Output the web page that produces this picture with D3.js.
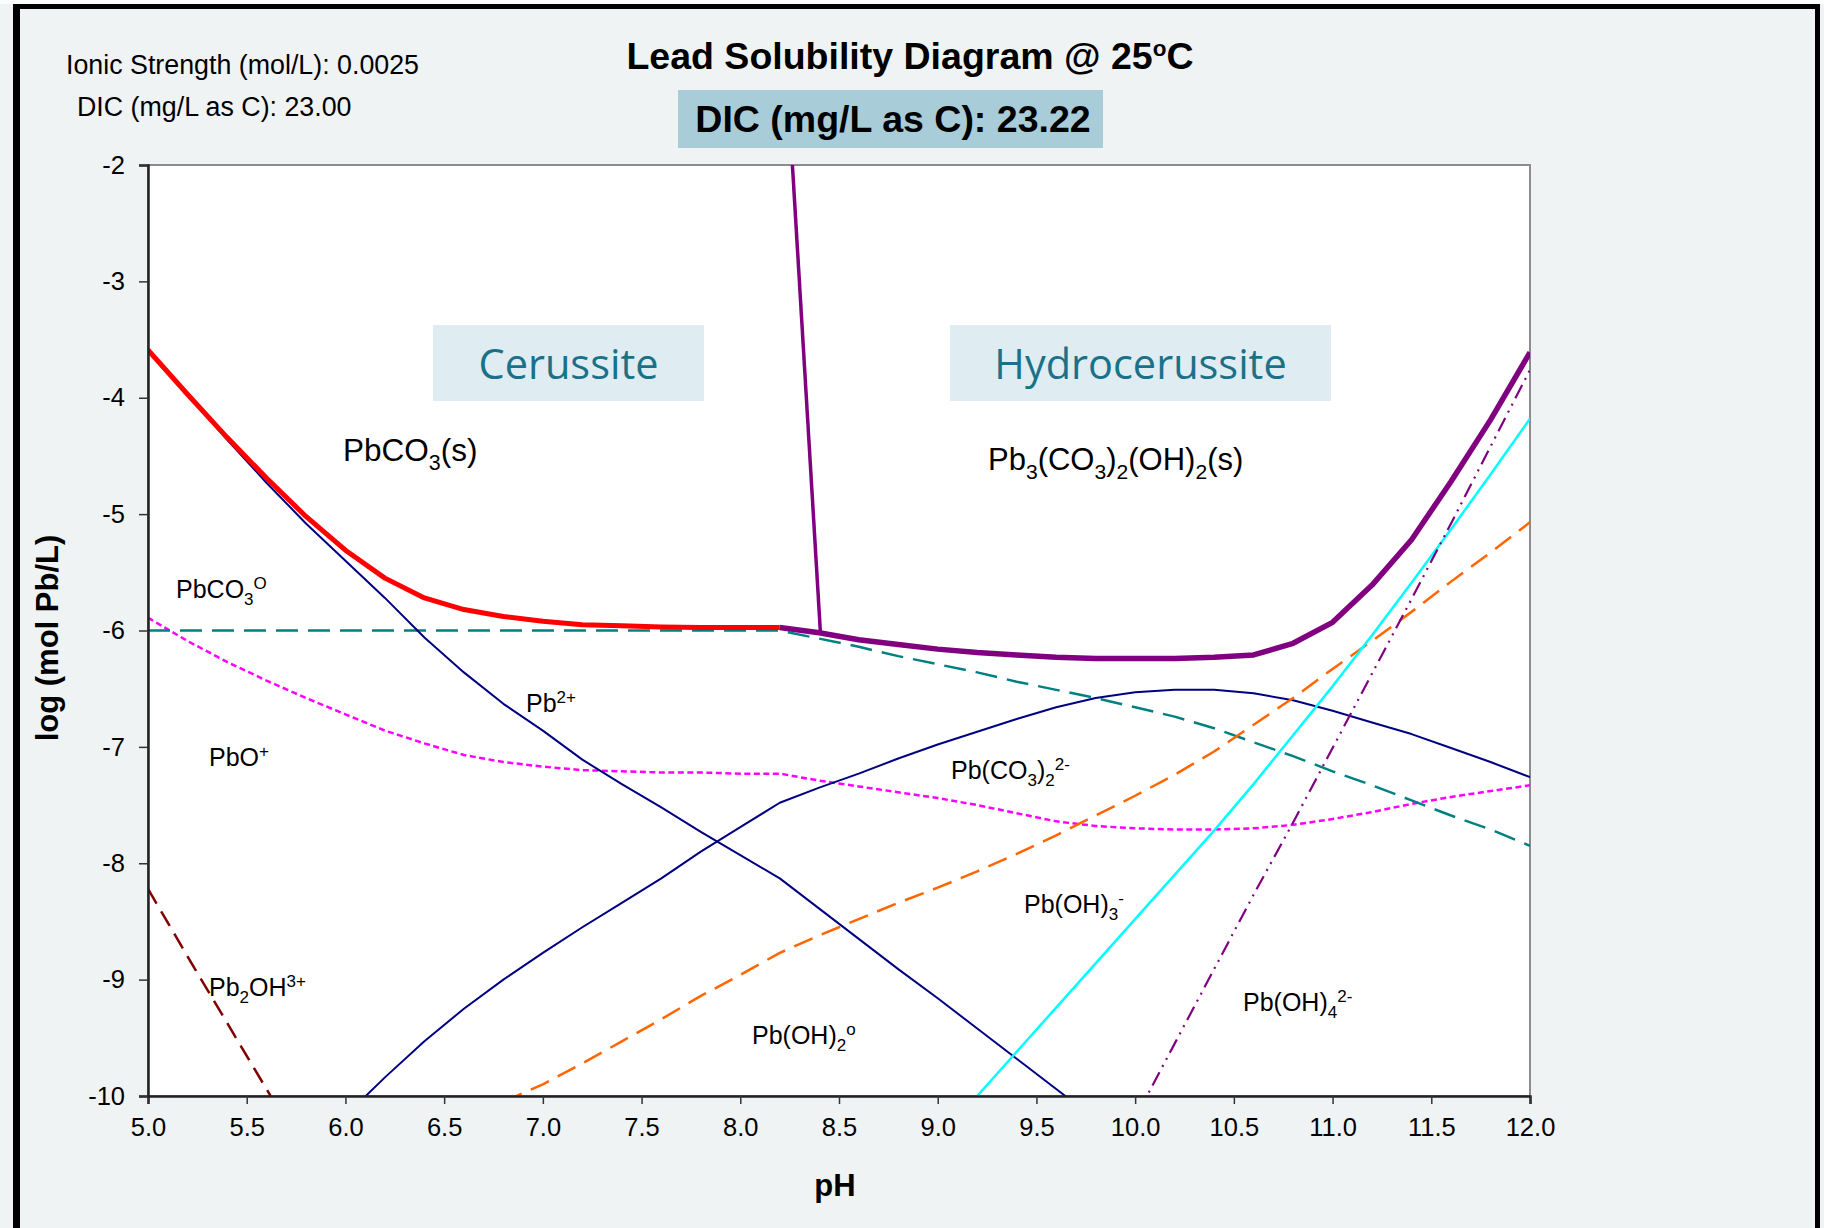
<!DOCTYPE html>
<html>
<head>
<meta charset="utf-8">
<script src="https://cdn.jsdelivr.net/npm/d3@7/dist/d3.min.js"></script>
<style>
  html, body { margin: 0; padding: 0; background: #eff3f4; }
  svg { display: block; }
</style>
</head>
<body>
<svg id="chart" width="1824" height="1228"></svg>
<script>
// ---- data: log total / species concentration (mol Pb/L) versus pH ----
const xTicks = [5.0, 5.5, 6.0, 6.5, 7.0, 7.5, 8.0, 8.5, 9.0, 9.5, 10.0, 10.5, 11.0, 11.5, 12.0];
const yTicks = [-2, -3, -4, -5, -6, -7, -8, -9, -10];

// total dissolved lead controlled by cerussite
const cerussiteTotal = [[5.0,-3.59],[5.2,-3.97],[5.4,-4.34],[5.6,-4.69],[5.8,-5.02],[6.0,-5.31],[6.2,-5.55],
  [6.4,-5.72],[6.6,-5.82],[6.8,-5.88],[7.0,-5.92],[7.2,-5.95],[7.4,-5.96],[7.6,-5.97],[7.8,-5.975],
  [8.0,-5.975],[8.2,-5.975]];
// total dissolved lead controlled by hydrocerussite
const hydrocerussiteTotal = [[8.2,-5.975],[8.4,-6.02],[8.6,-6.08],[8.8,-6.12],[9.0,-6.16],[9.2,-6.19],[9.4,-6.21],
  [9.6,-6.23],[9.8,-6.24],[10.0,-6.24],[10.2,-6.24],[10.4,-6.23],[10.6,-6.21],[10.8,-6.11],[11.0,-5.93],
  [11.2,-5.61],[11.4,-5.22],[11.6,-4.72],[11.8,-4.19],[12.0,-3.61]];
// cerussite / hydrocerussite boundary
const phaseBoundary = [[8.264,-2.0],[8.406,-6.02]];

const pbCO3aq = [[5.0,-6.0],[6.0,-6.0],[7.0,-6.0],[8.0,-6.0],[8.2,-6.0],[8.4,-6.07],[8.6,-6.14],[8.8,-6.22],
  [9.0,-6.29],[9.2,-6.36],[9.4,-6.44],[9.6,-6.51],[9.8,-6.58],[10.0,-6.66],[10.2,-6.74],[10.4,-6.84],
  [10.6,-6.96],[10.8,-7.08],[11.0,-7.21],[11.2,-7.33],[11.4,-7.46],[11.6,-7.59],[11.8,-7.71],[12.0,-7.85]];
const pb2plus = [[5.0,-3.60],[5.2,-3.97],[5.4,-4.36],[5.6,-4.73],[5.8,-5.08],[6.0,-5.40],[6.2,-5.72],
  [6.4,-6.06],[6.6,-6.36],[6.8,-6.63],[7.0,-6.86],[7.2,-7.11],[7.4,-7.32],[7.6,-7.52],[7.8,-7.73],
  [8.0,-7.93],[8.2,-8.13],[8.4,-8.39],[8.6,-8.65],[8.8,-8.91],[9.0,-9.16],[9.2,-9.42],[9.4,-9.68],
  [9.6,-9.94],[9.8,-10.2]];
const pbCO3_2 = [[6.0,-10.17],[6.2,-9.84],[6.4,-9.53],[6.6,-9.25],[6.8,-9.00],[7.0,-8.77],[7.2,-8.55],
  [7.4,-8.34],[7.6,-8.13],[7.8,-7.90],[8.0,-7.69],[8.2,-7.48],[8.4,-7.35],[8.6,-7.23],[8.8,-7.10],
  [9.0,-6.98],[9.2,-6.87],[9.4,-6.76],[9.6,-6.66],[9.8,-6.58],[10.0,-6.53],[10.2,-6.51],[10.4,-6.51],
  [10.6,-6.54],[10.8,-6.60],[11.0,-6.69],[11.2,-6.79],[11.4,-6.89],[11.6,-7.01],[11.8,-7.13],[12.0,-7.26]];
const pbOHplus = [[5.0,-5.89],[5.2,-6.09],[5.4,-6.27],[5.6,-6.43],[5.8,-6.58],[6.0,-6.72],[6.2,-6.86],
  [6.4,-6.97],[6.6,-7.07],[6.8,-7.13],[7.0,-7.17],[7.2,-7.20],[7.4,-7.21],[7.6,-7.22],[7.8,-7.22],
  [8.0,-7.23],[8.2,-7.23],[8.4,-7.29],[8.6,-7.34],[8.8,-7.39],[9.0,-7.44],[9.2,-7.50],[9.4,-7.57],
  [9.6,-7.64],[9.8,-7.68],[10.0,-7.70],[10.2,-7.71],[10.4,-7.71],[10.6,-7.70],[10.8,-7.67],[11.0,-7.62],
  [11.2,-7.56],[11.4,-7.49],[11.6,-7.43],[11.8,-7.38],[12.0,-7.33]];
const pbOH2aq = [[6.8,-10.05],[7.0,-9.90],[7.2,-9.72],[7.4,-9.53],[7.6,-9.34],[7.8,-9.14],[8.0,-8.96],
  [8.2,-8.77],[8.4,-8.62],[8.6,-8.48],[8.8,-8.34],[9.0,-8.21],[9.2,-8.07],[9.4,-7.92],[9.6,-7.76],
  [9.8,-7.59],[10.0,-7.42],[10.2,-7.24],[10.4,-7.04],[10.6,-6.81],[10.8,-6.58],[11.0,-6.33],[11.2,-6.09],
  [11.4,-5.84],[11.6,-5.58],[11.8,-5.33],[12.0,-5.07]];
const pbOH3minus = [[9.0,-10.38],[9.2,-10.0],[9.4,-9.62],[9.6,-9.24],[9.8,-8.86],[10.0,-8.48],[10.2,-8.10],
  [10.4,-7.72],[10.6,-7.32],[10.8,-6.90],[11.0,-6.48],[11.2,-6.04],[11.4,-5.59],[11.6,-5.13],[11.8,-4.66],
  [12.0,-4.18]];
const pbOH4 = [[10.0,-10.19],[10.2,-9.55],[10.4,-8.91],[10.6,-8.27],[10.8,-7.65],[11.0,-7.01],[11.2,-6.37],
  [11.4,-5.73],[11.6,-5.08],[11.8,-4.42],[12.0,-3.76]];
const pb2OH3plus = [[5.0,-8.22],[5.2,-8.80],[5.4,-9.37],[5.6,-9.94],[5.8,-10.51]];

// ---- layout ----
const svg = d3.select('#chart');
const W = 1824, H = 1228;
const plot = { left: 148, right: 1530, top: 165, bottom: 1096 };
const x = d3.scaleLinear().domain([5, 12]).range([plot.left, plot.right]);
const y = d3.scaleLinear().domain([-10, -2]).range([plot.bottom, plot.top]);
const FONT = 'Liberation Sans, Arial, Helvetica, sans-serif';

svg.append('rect').attr('width', W).attr('height', H).attr('fill', '#eff3f4');

// outer frame
svg.append('rect').attr('x', 0).attr('y', 0).attr('width', W).attr('height', 4).attr('fill', '#fbfcfc');
svg.append('line').attr('x1', 13).attr('x2', 1820).attr('y1', 6.5).attr('y2', 6.5)
  .attr('stroke', '#000').attr('stroke-width', 5);
svg.append('line').attr('x1', 16.5).attr('x2', 16.5).attr('y1', 4).attr('y2', H)
  .attr('stroke', '#000').attr('stroke-width', 7);
svg.append('line').attr('x1', 1817.5).attr('x2', 1817.5).attr('y1', 4).attr('y2', H)
  .attr('stroke', '#000').attr('stroke-width', 5);

// plot area
svg.append('rect').attr('x', plot.left).attr('y', plot.top)
  .attr('width', plot.right - plot.left).attr('height', plot.bottom - plot.top)
  .attr('fill', '#fff').attr('stroke', '#8c8c8c').attr('stroke-width', 2);

svg.append('defs').append('clipPath').attr('id', 'plotClip')
  .append('rect').attr('x', plot.left).attr('y', plot.top)
  .attr('width', plot.right - plot.left).attr('height', plot.bottom - plot.top);

// rich text helper: parts = [[string, 'sub'|'sup'|null], ...]
function richText(parent, px, py, parts, size, opts = {}) {
  const t = parent.append('text')
    .attr('x', px).attr('y', py)
    .attr('font-family', opts.family || FONT)
    .attr('font-size', size)
    .attr('font-weight', opts.weight || 'normal')
    .attr('fill', opts.fill || '#000')
    .attr('text-anchor', opts.anchor || 'start');
  let cur = 0;
  parts.forEach(([str, kind]) => {
    const target = kind === 'sub' ? size * 0.28 : kind === 'sup' ? -size * 0.36 : 0;
    t.append('tspan')
      .attr('dy', target - cur)
      .attr('font-size', kind ? size * (opts.scriptScale || 0.68) : size)
      .text(str);
    cur = target;
  });
  return t;
}

// phase region boxes
const regionBoxes = [
  { name: 'Cerussite', x0: 433, x1: 704, y0: 325, y1: 401 },
  { name: 'Hydrocerussite', x0: 950, x1: 1331, y0: 325, y1: 401 }
];
regionBoxes.forEach(b => {
  svg.append('rect').attr('x', b.x0).attr('y', b.y0).attr('width', b.x1 - b.x0).attr('height', b.y1 - b.y0)
    .attr('fill', '#dfedf2');
  svg.append('text').attr('x', (b.x0 + b.x1) / 2).attr('y', (b.y0 + b.y1) / 2 + 16)
    .attr('text-anchor', 'middle').attr('font-family', 'Open Sans, Noto Sans, sans-serif')
    .attr('font-size', 41.5).attr('fill', '#1a7189').text(b.name);
});

// series
const line = d3.line().x(d => x(d[0])).y(d => y(d[1]));
const lines = svg.append('g').attr('clip-path', 'url(#plotClip)');
const series = [
  { data: pb2OH3plus, color: '#800000', width: 2.5, dash: '17,9' },
  { data: pbOHplus, color: '#ff00ff', width: 2.5, dash: '6,3.5' },
  { data: pbCO3aq, color: '#008080', width: 2.5, dash: '22,10' },
  { data: pb2plus, color: '#000080', width: 2, dash: null },
  { data: pbCO3_2, color: '#000080', width: 2, dash: null },
  { data: pbOH2aq, color: '#ff6600', width: 2.5, dash: '20,10' },
  { data: pbOH3minus, color: '#00ffff', width: 2.5, dash: null },
  { data: pbOH4, color: '#800080', width: 2.2, dash: '15,6,2,6,2,6' },
  { data: phaseBoundary, color: '#800080', width: 3.5, dash: null },
  { data: cerussiteTotal, color: '#ff0000', width: 5, dash: null },
  { data: hydrocerussiteTotal, color: '#800080', width: 5.5, dash: null }
];
series.forEach(s => {
  lines.append('path').datum(s.data).attr('d', line)
    .attr('fill', 'none').attr('stroke', s.color).attr('stroke-width', s.width)
    .attr('stroke-dasharray', s.dash).attr('stroke-linejoin', 'round');
});

// axes
const xAxis = svg.append('g').attr('transform', `translate(0,${plot.bottom})`)
  .call(d3.axisBottom(x).tickValues(xTicks).tickFormat(d3.format('.1f')).tickSize(8).tickPadding(14));
const yAxis = svg.append('g').attr('transform', `translate(${plot.left},0)`)
  .call(d3.axisLeft(y).tickValues(yTicks).tickFormat(d3.format('d')).tickSize(9).tickPadding(14));
[xAxis, yAxis].forEach(a => {
  a.select('.domain').attr('stroke', '#222').attr('stroke-width', 2.5);
  a.selectAll('.tick line').attr('stroke', '#333').attr('stroke-width', 1.5);
  a.selectAll('.tick text').attr('font-family', FONT).attr('font-size', 25.5).attr('fill', '#000');
});
yAxis.selectAll('.tick text').text(d => String(d).replace('\u2212', '-'));

// axis titles
svg.append('text').attr('transform', 'translate(47,638) rotate(-90)')
  .attr('text-anchor', 'middle').attr('dominant-baseline', 'central')
  .attr('font-family', FONT).attr('font-weight', 'bold').attr('font-size', 31).text('log (mol Pb/L)');
svg.append('text').attr('x', 835).attr('y', 1196)
  .attr('text-anchor', 'middle').attr('font-family', FONT).attr('font-weight', 'bold')
  .attr('font-size', 31).text('pH');

// header texts
richText(svg, 910, 69, [['Lead Solubility Diagram @ 25', null], ['o', 'sup'], ['C', null]], 37.5,
  { weight: 'bold', anchor: 'middle', scriptScale: 0.6 });
svg.append('rect').attr('x', 678).attr('y', 90).attr('width', 425).attr('height', 58).attr('fill', '#a8cdd8');
svg.append('text').attr('x', 893).attr('y', 132).attr('text-anchor', 'middle')
  .attr('font-family', FONT).attr('font-weight', 'bold').attr('font-size', 37.5).text('DIC (mg/L as C): 23.22');
svg.append('text').attr('x', 66).attr('y', 74).attr('font-family', FONT).attr('font-size', 26.8)
  .text('Ionic Strength (mol/L): 0.0025');
svg.append('text').attr('x', 77).attr('y', 116).attr('font-family', FONT).attr('font-size', 26.8)
  .text('DIC (mg/L as C): 23.00');

// species and solid labels (left x, vertical centre)
const L = 25;
const labels = [
  { x: 343, y: 450, size: 31.5, parts: [['PbCO', null], ['3', 'sub'], ['(s)', null]] },
  { x: 988, y: 459, size: 31, parts: [['Pb', null], ['3', 'sub'], ['(CO', null], ['3', 'sub'], [')', null], ['2', 'sub'], ['(OH)', null], ['2', 'sub'], ['(s)', null]] },
  { x: 176, y: 589, size: L, parts: [['PbCO', null], ['3', 'sub'], ['O', 'sup']] },
  { x: 209, y: 757, size: L, parts: [['PbO', null], ['+', 'sup']] },
  { x: 526, y: 703, size: L, parts: [['Pb', null], ['2+', 'sup']] },
  { x: 209, y: 987, size: L, parts: [['Pb', null], ['2', 'sub'], ['OH', null], ['3+', 'sup']] },
  { x: 752, y: 1035, size: L, parts: [['Pb(OH)', null], ['2', 'sub'], ['o', 'sup']] },
  { x: 951, y: 770, size: L, parts: [['Pb(CO', null], ['3', 'sub'], [')', null], ['2', 'sub'], ['2-', 'sup']] },
  { x: 1024, y: 904, size: L, parts: [['Pb(OH)', null], ['3', 'sub'], ['-', 'sup']] },
  { x: 1243, y: 1002, size: L, parts: [['Pb(OH)', null], ['4', 'sub'], ['2-', 'sup']] }
];
labels.forEach(l => richText(svg, l.x, l.y + l.size * 0.36, l.parts, l.size));
</script>
</body>
</html>
